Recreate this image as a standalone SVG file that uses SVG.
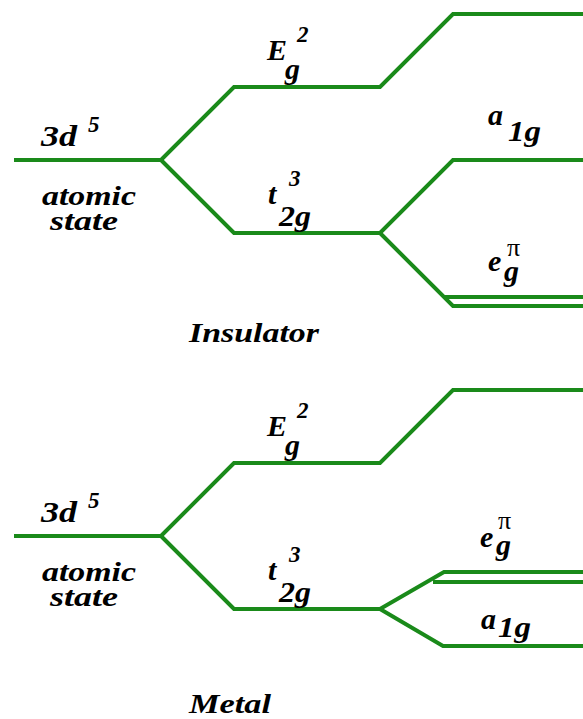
<svg xmlns="http://www.w3.org/2000/svg" width="583" height="719" viewBox="0 0 583 719">
<style>
.lv{fill:none;stroke:#1a8a1a;stroke-width:4;stroke-linejoin:miter}
.t{font-family:"Liberation Serif","Times New Roman",serif;font-weight:bold;font-style:italic;font-size:28px;fill:#000}
.g{font-family:"Liberation Serif","Times New Roman",serif;font-weight:bold;font-style:italic;font-size:30px;fill:#000}
.s{font-family:"Liberation Serif","Times New Roman",serif;font-weight:bold;font-style:italic;font-size:23px;fill:#000}
.p{font-family:"Liberation Serif","Times New Roman",serif;font-weight:normal;font-style:normal;font-size:26px;fill:#000}
</style>
<rect width="583" height="719" fill="#fff"/>
<g id="connectors">
  <path class="lv" d="M14 160H161L234 87H380L453 14H583"/>
  <path class="lv" d="M161 160L234 233H380L453 160H583"/>
  <path class="lv" d="M380 233L453 306H583"/>
  <path class="lv" d="M444 297H583"/>
  <path class="lv" d="M14 536H161L234 463H380L453 390H583"/>
  <path class="lv" d="M161 536L234 609H380L444 572H583"/>
  <path class="lv" d="M380 609L443 646H583"/>
  <path class="lv" d="M433 582H583"/>
</g>
<g id="insulator">
  <g id="atom-top"><text class="g" x="41" y="146" textLength="36" lengthAdjust="spacingAndGlyphs">3d</text><text class="s" x="88" y="132">5</text>
    <text class="t" x="42" y="205" textLength="94" lengthAdjust="spacingAndGlyphs">atomic</text><text class="t" x="50" y="230" textLength="68" lengthAdjust="spacingAndGlyphs">state</text></g>
  <g id="Eg-top"><text class="g" x="267" y="60">E</text><text class="s" x="297" y="42">2</text><text class="g" x="285" y="79">g</text></g>
  <g id="t2g-top"><text class="g" x="268" y="204">t</text><text class="s" x="289" y="186">3</text><text class="g" x="279" y="226" textLength="32" lengthAdjust="spacingAndGlyphs">2g</text></g>
  <g id="a1g-top"><text class="g" x="488" y="125">a</text><text class="g" x="508" y="141" textLength="33" lengthAdjust="spacingAndGlyphs">1g</text></g>
  <g id="egpi-top"><text class="g" x="488" y="271">e</text><text class="p" x="507" y="256">π</text><text class="g" x="504" y="281">g</text></g>
  <text class="t" x="189" y="342" textLength="130" lengthAdjust="spacingAndGlyphs">Insulator</text>
</g>
<g id="metal">
  <g id="atom-bot"><text class="g" x="41" y="522" textLength="36" lengthAdjust="spacingAndGlyphs">3d</text><text class="s" x="88" y="508">5</text>
    <text class="t" x="42" y="581" textLength="94" lengthAdjust="spacingAndGlyphs">atomic</text><text class="t" x="50" y="606" textLength="68" lengthAdjust="spacingAndGlyphs">state</text></g>
  <g id="Eg-bot"><text class="g" x="267" y="436">E</text><text class="s" x="297" y="418">2</text><text class="g" x="285" y="455">g</text></g>
  <g id="t2g-bot"><text class="g" x="268" y="580">t</text><text class="s" x="289" y="562">3</text><text class="g" x="279" y="602" textLength="32" lengthAdjust="spacingAndGlyphs">2g</text></g>
  <g id="egpi-bot"><text class="g" x="480" y="547">e</text><text class="p" x="498" y="529">π</text><text class="g" x="496" y="555">g</text></g>
  <g id="a1g-bot"><text class="g" x="481" y="629">a</text><text class="g" x="498" y="637" textLength="33" lengthAdjust="spacingAndGlyphs">1g</text></g>
  <text class="t" x="189" y="713" textLength="82" lengthAdjust="spacingAndGlyphs">Metal</text>
</g>
</svg>
